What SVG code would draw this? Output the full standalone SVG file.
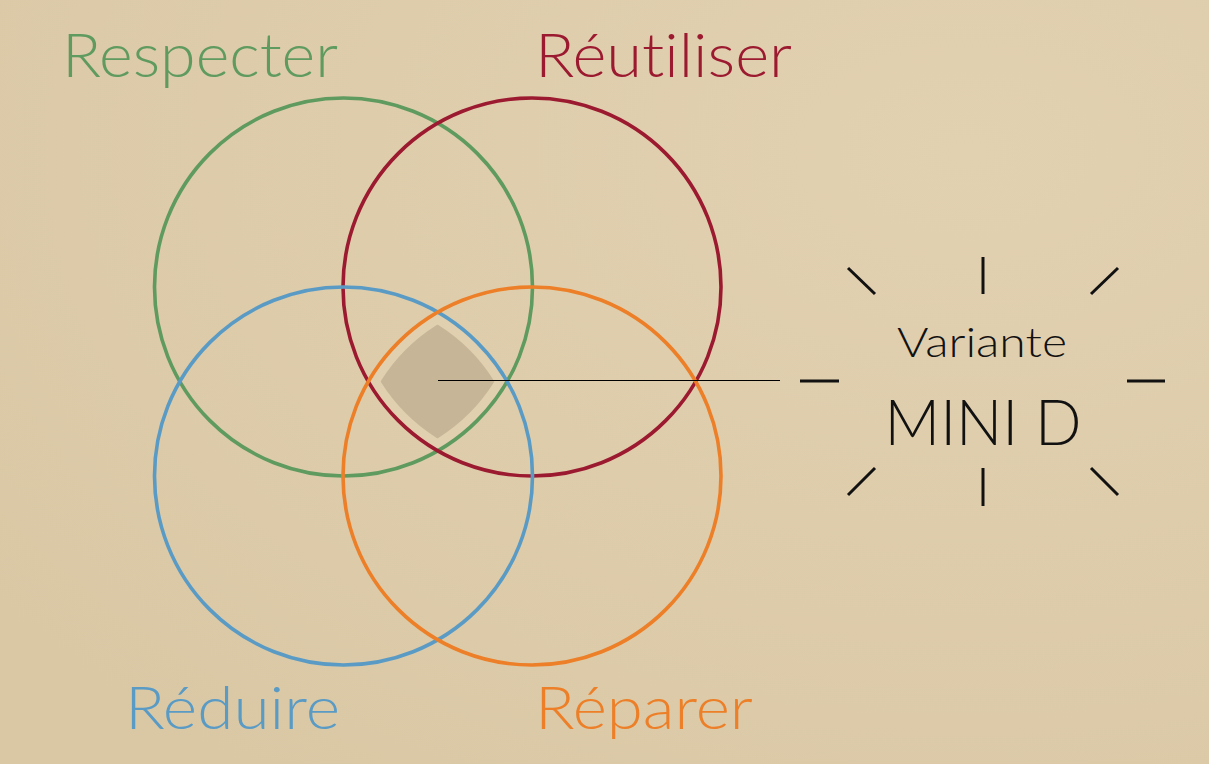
<svg xmlns="http://www.w3.org/2000/svg" width="1209" height="764" viewBox="0 0 1209 764">
  <style>
    .ring { fill: none; stroke-width: 3.6; }
    .label { font-family: Lato, "Noto Sans", "Liberation Sans", sans-serif; font-weight: 300; font-variant-ligatures: none; font-feature-settings: "liga" 0; }
    .ray { stroke: #111; stroke-width: 3; stroke-linecap: butt; }
  </style>
  <defs>
    <radialGradient id="paper" cx="0.8" cy="0.2" r="1">
      <stop offset="0" stop-color="#e2d1b1"/>
      <stop offset="1" stop-color="#dac8a5"/>
    </radialGradient>
  </defs>

  <!-- paper background -->
  <rect width="1209" height="764" fill="url(#paper)"/>

  <!-- shared core where all four rings overlap -->
  <g id="core">
    <path d="M437.5 312.4 A189 189 0 0 0 368.3 381.5 A189 189 0 0 0 437.5 450.6 A189 189 0 0 0 506.7 381.5 A189 189 0 0 0 437.5 312.4 Z" fill="#e1d0af"/>
    <path d="M437.5 326.3 A177 177 0 0 0 382.3 381.5 A177 177 0 0 0 437.5 436.7 A177 177 0 0 0 492.7 381.5 A177 177 0 0 0 437.5 326.3 Z" fill="#c6b597" stroke="#c6b597" stroke-width="3" stroke-linejoin="round"/>
  </g>

  <!-- the four rings -->
  <g id="respecter">
    <circle class="ring" cx="343.5" cy="287" r="189" stroke="#5f9a5f"/>
    <text class="label" x="62" y="77" font-size="61" fill="#5f9a5f" textLength="276" lengthAdjust="spacingAndGlyphs">Respecter</text>
  </g>
  <g id="reutiliser">
    <circle class="ring" cx="532" cy="287" r="189" stroke="#9c1a30"/>
    <text class="label" x="535" y="77" font-size="61" fill="#9c1a30" textLength="257" lengthAdjust="spacingAndGlyphs">Réutiliser</text>
  </g>
  <g id="reduire">
    <circle class="ring" cx="343.5" cy="476" r="189" stroke="#5a9bc5"/>
    <text class="label" x="125" y="729" font-size="59" fill="#5a9bc5" textLength="215" lengthAdjust="spacingAndGlyphs">Réduire</text>
  </g>
  <g id="reparer">
    <circle class="ring" cx="532" cy="476" r="189" stroke="#ec7f27"/>
    <text class="label" x="535" y="729" font-size="59" fill="#ec7f27" textLength="218" lengthAdjust="spacingAndGlyphs">Réparer</text>
  </g>

  <!-- pointer from the core to the callout -->
  <g id="connectors">
    <line x1="438" y1="380.5" x2="780" y2="380.5" stroke="#000" stroke-width="1"/>
  </g>

  <!-- callout with radiating strokes -->
  <g id="mini-d">
    <line class="ray" x1="983" y1="257" x2="983" y2="294"/>
    <line class="ray" x1="983" y1="468" x2="983" y2="506"/>
    <line class="ray" x1="800" y1="381" x2="839" y2="381"/>
    <line class="ray" x1="1127" y1="381" x2="1165" y2="381"/>
    <line class="ray" x1="848" y1="268" x2="875" y2="294"/>
    <line class="ray" x1="1118" y1="268" x2="1091" y2="294"/>
    <line class="ray" x1="848" y1="495" x2="875" y2="468"/>
    <line class="ray" x1="1118" y1="495" x2="1091" y2="468"/>
    <text class="label" x="982" y="357" font-size="42" fill="#111" text-anchor="middle" textLength="170" lengthAdjust="spacingAndGlyphs">Variante</text>
    <text class="label" x="983" y="445" font-size="64" fill="#111" text-anchor="middle" textLength="197" lengthAdjust="spacingAndGlyphs">MINI D</text>
  </g>
</svg>
